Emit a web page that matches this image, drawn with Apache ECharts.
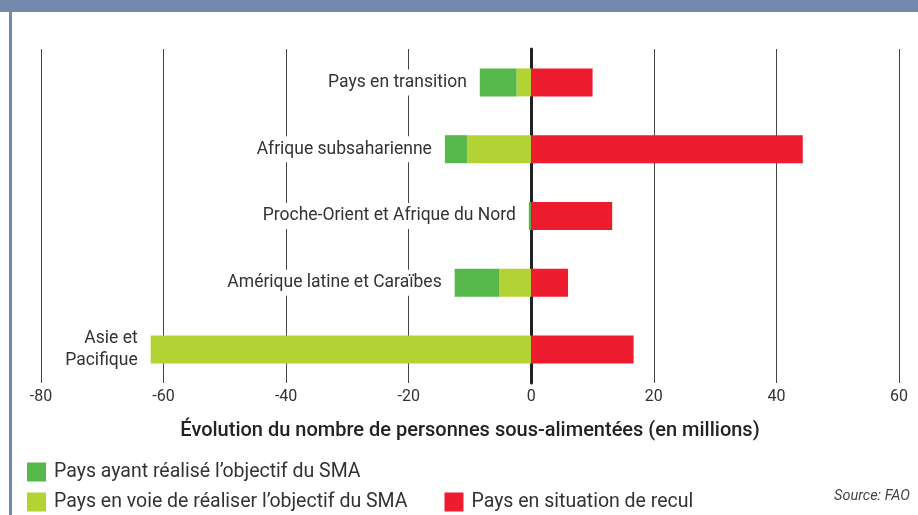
<!DOCTYPE html>
<html lang="fr">
<head>
<meta charset="UTF-8">
<title>Sous-alimentation par région</title>
<script src="https://cdn.jsdelivr.net/npm/echarts@6/dist/echarts.min.js"></script>
<style>
  html, body { margin: 0; padding: 0; background: #fff; }
  #chart { width: 918px; height: 515px; }
</style>
</head>
<body>
<div id="chart"></div>
<script>
// régions (de haut en bas)
var regions = ['Pays en transition', 'Afrique subsaharienne', 'Proche-Orient et Afrique du Nord',
               'Amérique latine et Caraïbes', 'Asie et\nPacifique'];
// valeurs en millions
var atteint  = [-6.0, -3.6, -0.4, -7.3, 0];     // objectif atteint
var enVoie   = [-2.4, -10.5, 0, -5.2, -62.1];   // en voie
var recul    = [10.0, 44.3, 13.2, 6.0, 16.7];   // recul
var xTicks = { min: -80, max: 60, step: 20 };

var legendNames = ['Pays ayant réalisé l’objectif du SMA',
                   'Pays en voie de réaliser l’objectif du SMA',
                   'Pays en situation de recul'];

var FONT = 'Roboto';
var chart = echarts.init(document.getElementById('chart'));

var legendText = { fontSize: 19.5, color: '#333', padding: [0, 0, 0, 3] };

chart.setOption({
  animation: false,
  textStyle: { fontFamily: FONT },
  grid: { left: 41, right: 19, top: 49, bottom: 132 },
  graphic: [
    { type: 'rect', shape: { x: 0, y: 0, width: 918, height: 12 }, style: { fill: '#7389ac' } },
    { type: 'rect', shape: { x: 9, y: 0, width: 3, height: 515 }, style: { fill: '#7389ac' } },
    { type: 'text', right: 8, top: 489,
      style: { text: 'Source: FAO', fontFamily: FONT, fontStyle: 'italic', fontSize: 14.5, fill: '#444' } }
  ],
  legend: [
    { data: [legendNames[0]], left: 22, top: 457, icon: 'rect', itemWidth: 19, itemHeight: 19,
      textStyle: legendText, selectedMode: false },
    { data: [legendNames[1], legendNames[2]], left: 22, top: 487, icon: 'rect', itemWidth: 19, itemHeight: 19,
      itemGap: 37, textStyle: legendText, selectedMode: false }
  ],
  xAxis: {
    type: 'value',
    min: xTicks.min, max: xTicks.max, interval: xTicks.step,
    axisLine: { show: false },
    axisTick: { show: false },
    axisLabel: { color: '#333', fontSize: 16, margin: 6 },
    splitLine: { lineStyle: { color: '#444', width: 1 } },
    name: 'Évolution du nombre de personnes sous-alimentées (en millions)',
    nameLocation: 'middle',
    nameGap: 38,
    nameTextStyle: { fontSize: 20, fontWeight: 500, color: '#222' }
  },
  yAxis: {
    type: 'category',
    data: regions,
    inverse: true,
    axisLine: { onZero: true, lineStyle: { color: '#222', width: 3 } },
    axisTick: { show: false },
    axisLabel: { show: false },
    splitLine: { show: false }
  },
  series: [
    {
      name: legendNames[1], type: 'bar', stack: 'neg', stackStrategy: 'all',
      data: enVoie, barWidth: 28, barGap: '-100%',
      itemStyle: { color: '#b3d334' }
    },
    {
      name: legendNames[0], type: 'bar', stack: 'neg', stackStrategy: 'all',
      data: atteint, barWidth: 28, barGap: '-100%',
      itemStyle: { color: '#56b74b' },
      label: {
        show: true, position: 'left', distance: 9,
        formatter: function (p) { return p.name; },
        color: '#333', fontSize: 17.5, lineHeight: 22,
        backgroundColor: '#fff', padding: [2, 4]
      }
    },
    {
      name: legendNames[2], type: 'bar', stack: 'pos',
      data: recul, barWidth: 28, barGap: '-100%',
      itemStyle: { color: '#ed1c2f' }
    }
  ]
});
</script>
</body>
</html>
